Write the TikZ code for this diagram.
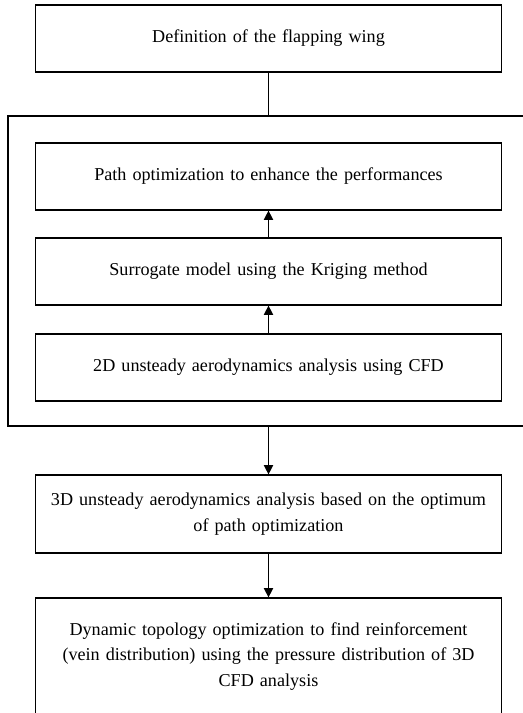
\documentclass[tikz,border=0pt]{standalone}
\usepackage{fontspec}
\setmainfont{Liberation Serif}
\usetikzlibrary{arrows.meta, positioning}
\tikzset{
  % Box styles
  stepbox/.style={rectangle, draw=black, line width=0.9pt, fill=white, minimum width=350pt, minimum height=50.25pt, font=\fontsize{13.6}{19}\selectfont, align=center, text width=340pt},
  loopbox/.style={rectangle, draw=black, line width=0.9pt, minimum width=390.75pt, minimum height=232.5pt},
  % Arrow styles
  arrow/.style={-{Triangle[width=7pt,length=7pt]}, line width=0.9pt},
  plainline/.style={line width=0.9pt}
}

\begin{document}
\begin{tikzpicture}[x=0.75pt, y=-0.75pt]
  \useasboundingbox (0,0) rectangle (523,713);
  \clip (0,0) rectangle (523,713);

  % Outer loop frame
  \node[loopbox] (loop) at (268.5,271) {};

  % Steps
  \node[stepbox] (wing) at (268.5,38.5) {Definition of the flapping wing};
  \node[stepbox] (path) at (268.5,176.5) {Path optimization to enhance the performances};
  \node[stepbox] (kriging) at (268.5,271.5) {Surrogate model using the Kriging method};
  \node[stepbox] (cfd2d) at (268.5,367.5) {2D unsteady aerodynamics analysis using CFD};
  \node[stepbox, minimum height=58.5pt] (cfd3d) at (268.5,514) {3D unsteady aerodynamics analysis based on the optimum\\of path optimization};
  \node[stepbox, minimum height=87.4pt] (topo) at (268.5,656.25) {Dynamic topology optimization to find reinforcement\\(vein distribution) using the pressure distribution of 3D\\CFD analysis};

  % Arrows
  \draw[plainline] (wing) -- (wing.south |- loop.north);
  \draw[arrow] (kriging) -- (path);
  \draw[arrow] (cfd2d) -- (kriging);
  \draw[arrow] (loop) -- (cfd3d);
  \draw[arrow] (cfd3d) -- (topo);
\end{tikzpicture}
\end{document}
